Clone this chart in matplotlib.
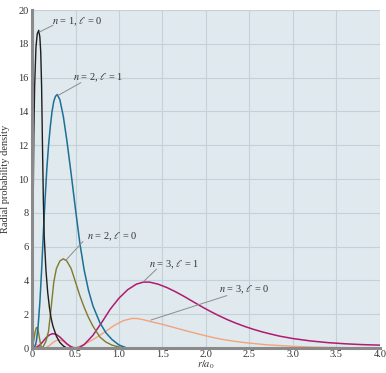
import matplotlib
matplotlib.use("Agg")
import matplotlib.pyplot as plt

plt.rcParams['font.family'] = ['Liberation Serif', 'DejaVu Serif']
plt.rcParams['mathtext.fontset'] = 'stix'

# ---- data ----
x_10 = [0, 0.005, 0.012, 0.02, 0.03, 0.045, 0.06, 0.077, 0.09, 0.10, 0.11, 0.12, 0.13, 0.14, 0.16, 0.18, 0.20, 0.22, 0.24, 0.28, 0.32, 0.36, 0.40]
y_10 = [0, 3.0, 8.0, 12.5, 15.5, 17.8, 18.6, 18.8, 18.4, 17.5, 15.5, 12.0, 8.8, 6.6, 4.6, 3.3, 2.4, 1.75, 1.3, 0.7, 0.33, 0.12, 0.0]

x_21 = [0, 0.03, 0.05, 0.07, 0.09, 0.11, 0.13, 0.15, 0.17, 0.19, 0.21, 0.23, 0.25, 0.27, 0.29, 0.32, 0.36, 0.40, 0.45, 0.50, 0.55, 0.60, 0.65, 0.70, 0.78, 0.85, 0.92, 1.00, 1.08]
y_21 = [0, 0.05, 0.4, 1.3, 2.7, 4.6, 6.8, 8.8, 10.6, 12.0, 13.1, 14.0, 14.6, 14.9, 15.0, 14.7, 13.7, 12.3, 10.3, 8.2, 6.2, 4.6, 3.4, 2.5, 1.5, 0.9, 0.5, 0.18, 0.02]

x_20 = [0, 0.02, 0.035, 0.05, 0.06, 0.07, 0.085, 0.10, 0.11, 0.13, 0.16, 0.19, 0.22, 0.25, 0.28, 0.32, 0.36, 0.40, 0.45, 0.50, 0.55, 0.60, 0.65, 0.70, 0.78, 0.85, 0.92, 1.00, 1.07]
y_20 = [0, 0.45, 0.95, 1.2, 1.22, 1.05, 0.6, 0.15, 0.0, 0.1, 0.4, 1.0, 2.4, 3.9, 4.7, 5.15, 5.28, 5.15, 4.7, 3.9, 3.1, 2.4, 1.8, 1.3, 0.65, 0.35, 0.17, 0.06, 0.0]

x_31 = [0.03, 0.08, 0.12, 0.16, 0.20, 0.24, 0.28, 0.32, 0.36, 0.40, 0.44, 0.48, 0.52, 0.55, 0.60, 0.70, 0.80, 0.90, 1.00, 1.10, 1.20, 1.28, 1.35, 1.45, 1.55, 1.65, 1.75, 1.85, 1.95, 2.05, 2.15, 2.25, 2.35, 2.45, 2.55, 2.65, 2.75, 2.85, 3.00, 3.20, 3.40, 3.60, 3.80, 4.00]
y_31 = [0, 0.12, 0.35, 0.6, 0.78, 0.85, 0.8, 0.65, 0.45, 0.25, 0.1, 0.02, 0.0, 0.05, 0.2, 0.75, 1.5, 2.3, 2.95, 3.45, 3.78, 3.9, 3.9, 3.78, 3.58, 3.33, 3.05, 2.75, 2.45, 2.17, 1.91, 1.67, 1.46, 1.27, 1.1, 0.95, 0.82, 0.7, 0.56, 0.42, 0.32, 0.25, 0.2, 0.17]

x_30 = [0, 0.02, 0.05, 0.08, 0.11, 0.14, 0.16, 0.20, 0.24, 0.28, 0.32, 0.36, 0.40, 0.44, 0.47, 0.55, 0.65, 0.75, 0.85, 0.95, 1.05, 1.15, 1.22, 1.30, 1.40, 1.50, 1.60, 1.70, 1.80, 1.90, 2.00, 2.10, 2.20, 2.30, 2.40, 2.50, 2.60, 2.70, 2.80, 3.00, 3.20, 3.40, 3.60, 4.00]
y_30 = [0, 0.12, 0.2, 0.15, 0.05, 0.0, 0.02, 0.15, 0.32, 0.45, 0.47, 0.4, 0.25, 0.1, 0.0, 0.1, 0.35, 0.65, 1.0, 1.35, 1.62, 1.75, 1.74, 1.65, 1.52, 1.4, 1.26, 1.12, 0.98, 0.85, 0.72, 0.6, 0.5, 0.42, 0.35, 0.29, 0.24, 0.19, 0.16, 0.1, 0.06, 0.04, 0.02, 0.01]

x_ticks = [0, 0.5, 1.0, 1.5, 2.0, 2.5, 3.0, 3.5, 4.0]
x_tick_labels = ["0", "0.5", "1.0", "1.5", "2.0", "2.5", "3.0", "3.5", "4.0"]
y_ticks = [0, 2, 4, 6, 8, 10, 12, 14, 16, 18, 20]

labels = [r"$n$ = 1, $\ell$ = 0", r"$n$ = 2, $\ell$ = 1", r"$n$ = 2, $\ell$ = 0",
          r"$n$ = 3, $\ell$ = 1", r"$n$ = 3, $\ell$ = 0"]
label_xy = [(0.235, 19.3), (0.47, 16.0), (0.635, 6.6), (1.34, 4.95), (2.155, 3.43)]
leader_from = [(0.085, 18.7), (0.30, 14.95), (0.39, 5.2), (1.28, 3.92), (1.37, 1.66)]
leader_to = [(0.24, 19.1), (0.56, 15.7), (0.585, 6.3), (1.43, 4.66), (2.24, 3.1)]

fig = plt.figure(figsize=(3.86, 3.73), dpi=100)
ax = fig.add_axes([0.083, 0.067, 0.901, 0.906])
ax.set_facecolor('#dfe9ee')
ax.set_xlim(0, 4.0)
ax.set_ylim(0, 20)
ax.set_xticks(x_ticks)
ax.set_xticklabels(x_tick_labels)
ax.set_yticks(y_ticks)
ax.grid(True, color='#c3d1d8', lw=0.8)
ax.set_axisbelow(True)
ax.tick_params(length=0, labelsize=7.5, colors='#333333')
ax.tick_params(axis='x', pad=1.5)
ax.tick_params(axis='y', pad=2.5)
for s in ['top', 'right']:
    ax.spines[s].set_visible(False)
for s in ['left', 'bottom']:
    ax.spines[s].set_color('#8a8a8a')
    ax.spines[s].set_linewidth(2.2)

ax.plot(x_30, y_30, color='#f5a27c', lw=1.0)
ax.plot(x_31, y_31, color='#b01a70', lw=1.1)
ax.plot(x_20, y_20, color='#7f7a2c', lw=1.0)
ax.plot(x_21, y_21, color='#1d6f96', lw=1.1)
ax.plot(x_10, y_10, color='#1e1e1e', lw=1.0)

for (a, b), (c, d) in zip(leader_from, leader_to):
    ax.plot([a, c], [b, d], color='#8c8c8c', lw=0.7)
for t, (tx, ty) in zip(labels, label_xy):
    ax.text(tx, ty, t, fontsize=7.5, ha='left', va='center', color='#333333')

ax.set_ylabel("Radial probability density", fontsize=7.5, color='#333333')
ax.yaxis.set_label_coords(-0.062, 0.5)
ax.set_xlabel(r"$r/a_0$", fontsize=7.5, color='#333333')
ax.xaxis.set_label_coords(0.5, -0.031)

fig.savefig("out.png", dpi=100)
